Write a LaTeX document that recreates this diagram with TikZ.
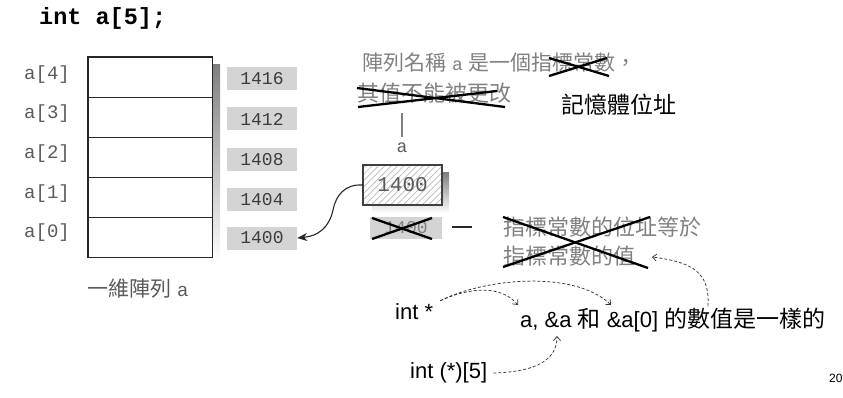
\documentclass[tikz,border=0pt]{standalone}
\usepackage{fontspec}
\setmainfont{Liberation Sans}
\setmonofont{Liberation Mono}
\newfontfamily\cjk{Noto Sans CJK TC}
\usetikzlibrary{arrows.meta,patterns.meta,calc}

\definecolor{idxgray}{HTML}{5A5A5A}
\definecolor{notegray}{HTML}{808080}
\definecolor{addrfill}{HTML}{D4D4D4}
\definecolor{addrtext}{HTML}{3C3C3C}
\definecolor{shade}{HTML}{BDBDBD}
\definecolor{hatch}{HTML}{B8B8B8}

\begin{document}
\begin{tikzpicture}[x=1pt,y=-1pt,
  cell/.style={draw=black!85,line width=0.9pt,minimum width=124pt,minimum height=40pt,inner sep=0pt},
  idx/.style={anchor=west,text=idxgray,inner sep=0pt,font=\ttfamily\fontsize{19}{21}\selectfont},
  addr/.style={fill=addrfill,minimum width=70pt,minimum height=23pt,inner sep=0pt,text=addrtext,font=\ttfamily\fontsize{18}{20}\selectfont},
  note/.style={anchor=west,text=notegray,inner sep=0pt},
  crossline/.style={line width=2.3pt,black},
  hint/.style={draw=black!80,line width=0.75pt,dash pattern=on 3pt off 2pt,-{Straight Barb[length=4pt,width=7pt]}},
  plain/.style={anchor=west,inner sep=0pt,font=\fontsize{22}{26}\selectfont}
]
\useasboundingbox (0,0) rectangle (843,398);

% declaration
\node[anchor=west,inner sep=0pt,font=\ttfamily\bfseries\fontsize{23.5}{26}\selectfont] (decl) at (39,18) {int a[5];};

% array a with its drop shadow
\fill[shade] (97,65) rectangle (220,264);
\foreach \i/\y in {4/77,3/117,2/157,1/197,0/237}{
  \node[cell,fill=white] (c\i) at (150,\y) {};
}
\draw[line width=1.4pt,black!85] (c4.north west) rectangle (c0.south east);

% element names
\node[idx] (i4) at (24,75) {a[4]};
\node[idx] (i3) at (24,114) {a[3]};
\node[idx] (i2) at (24,154) {a[2]};
\node[idx] (i1) at (24,194) {a[1]};
\node[idx] (i0) at (24,233) {a[0]};

% element addresses
\node[addr] (ad4) at (262,79) {1416};
\node[addr] (ad3) at (262,119) {1412};
\node[addr] (ad2) at (262,160) {1408};
\node[addr] (ad1) at (262,200) {1404};
\node[addr] (ad0) at (262,238) {1400};

\node[anchor=west,inner sep=0pt,text=idxgray,font=\fontsize{21}{24}\selectfont] (cap) at (87,289)
  {{\cjk 一維陣列} {\ttfamily\fontsize{19}{20}\selectfont a}};

% notes about the array name
\node[note,font=\fontsize{21}{24}\selectfont] (l1) at (362,63)
  {{\cjk 陣列名稱} {\ttfamily\fontsize{18}{20}\selectfont a} {\cjk 是一個指標常數，}};
\draw[crossline] (549,58) -- (609,76);
\draw[crossline] (549,76) -- (607,58);
\node[note,font=\cjk\fontsize{22}{24}\selectfont] (l2) at (357,93) {其值不能被更改};
\draw[crossline] (357,88) -- (505,107);
\draw[crossline] (358,107) -- (497,91);
\node[anchor=west,inner sep=0pt,font=\cjk\fontsize{23}{26}\selectfont] (mem) at (561,105) {記憶體位址};

% the name a and its value
\coordinate (stemtop) at (402,113);
\coordinate (stembot) at (402,137);
\draw[line width=1.2pt,notegray] (stemtop) -- (stembot);
\node[inner sep=0pt,text=idxgray,font=\ttfamily\fontsize{18}{20}\selectfont] (aname) at (402,148) {a};

\fill[shade] (372,173) rectangle (449,213);
\node[draw=black!75,line width=1.3pt,minimum width=79pt,minimum height=40pt,inner sep=0pt,
  preaction={fill=white},pattern={Lines[angle=45,distance=4.5pt,line width=0.7pt]},pattern color=hatch,
  text=idxgray,font=\ttfamily\fontsize{21}{24}\selectfont] (ptr) at (402.5,185) {1400};

\node[addr,minimum width=72pt,minimum height=22pt,text=notegray] (old) at (406,228) {1400};
\draw[crossline] (372,218) -- (432,239);
\draw[crossline] (372,239) -- (432,218);
\draw[line width=2pt,black!85] (452,227) -- (472,227);

\node[note,font=\cjk\fontsize{22}{24}\selectfont] (l3) at (503,227) {指標常數的位址等於};
\node[note,font=\cjk\fontsize{22}{24}\selectfont] (l4) at (503,256) {指標常數的值};
\draw[crossline] (503,217) -- (648,268);
\draw[crossline] (503,267) -- (650,217);

% pointer from the name to the first element
\draw[line width=1.1pt,black!85,-{Stealth[length=10pt,width=8pt]}]
  (ptr.west) .. controls (345,184) and (336,195) .. (333,210)
  .. controls (329,228) and (318,236) .. (ad0.east);

% types and values
\node[plain] (intp) at (395,312) {int *};
\node[plain] (intarr) at (410,373) {int (*)[5]};
\node[plain] (same) at (520,320)
  {a, \&a {\cjk\fontsize{23}{26}\selectfont 和} \&a[0] {\cjk\fontsize{23}{26}\selectfont 的數值是一樣的}};
\node[anchor=west,inner sep=0pt,font=\fontsize{12}{14}\selectfont] (pg) at (829,378) {20};

\coordinate (tipA) at (518,305);
\coordinate (tipB) at (611,305);
\coordinate (tipC) at (557,336);
\coordinate (tipD) at (652,257);
\coordinate (fromSame) at (708,306);

\draw[hint] ([xshift=7pt,yshift=3pt]intp.north east) .. controls (468,288) and (500,284) .. (tipA);
\draw[hint] ([xshift=7pt,yshift=3pt]intp.north east) .. controls (485,278) and (575,270) .. (tipB);
\draw[hint] ([xshift=6pt]intarr.east) .. controls (528,372) and (557,364) .. (tipC);
\draw[hint] (fromSame) .. controls (710,272) and (692,262) .. (tipD);
\end{tikzpicture}
\end{document}
